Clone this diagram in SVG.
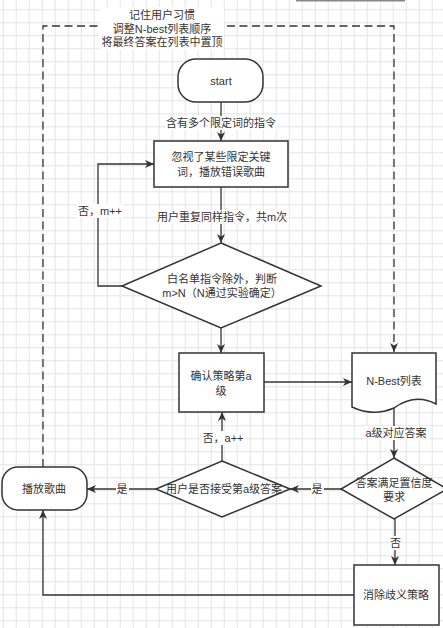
<svg xmlns="http://www.w3.org/2000/svg" width="443" height="628" viewBox="0 0 443 628">
  <defs>
    <pattern id="grid" x="2.7" y="9.3" width="13" height="13" patternUnits="userSpaceOnUse">
      <path d="M0.5,0 V13 M0,0.5 H13" fill="none" stroke="#e4e4e4" stroke-width="1"/>
    </pattern>
    <marker id="arr" markerWidth="10" markerHeight="9" refX="9" refY="4.5" orient="auto" markerUnits="userSpaceOnUse">
      <path d="M0,0.5 L9,4.5 L0,8.5 L2.5,4.5 Z" fill="#333"/>
    </marker>
    <style>
      .node { fill: #fff; stroke: #333; stroke-width: 1.5; }
      .edge { fill: none; stroke: #333; stroke-width: 1.3; }
      .dash { stroke-dasharray: 8 4.5; }
      .t { font-family: "Liberation Sans", "Noto Sans CJK SC", sans-serif; font-size: 11px; fill: #333; text-anchor: middle; dominant-baseline: central; }
      .bg { fill: #fff; }
    </style>
  </defs>
  <rect width="443" height="628" fill="#fff"/>
  <rect width="443" height="628" fill="url(#grid)"/>
  <line x1="296" y1="0.5" x2="405" y2="0.5" stroke="#888" stroke-width="2"/>

  <g id="connectors">
    <path class="edge dash" d="M43,467 V26 H394 V352" marker-end="url(#arr)"/>
    <path class="edge" d="M221,102 V141" marker-end="url(#arr)"/>
    <path class="edge" d="M221,187 V243" marker-end="url(#arr)"/>
    <path class="edge" d="M122,286 H98 V164 H154" marker-end="url(#arr)"/>
    <path class="edge" d="M221,328 V353" marker-end="url(#arr)"/>
    <path class="edge" d="M264,382 H352" marker-end="url(#arr)"/>
    <path class="edge" d="M394,408 V458" marker-end="url(#arr)"/>
    <path class="edge" d="M341,489 H290" marker-end="url(#arr)"/>
    <path class="edge" d="M222,461 V412" marker-end="url(#arr)"/>
    <path class="edge" d="M156,489 H87" marker-end="url(#arr)"/>
    <path class="edge" d="M395,519 V565" marker-end="url(#arr)"/>
    <path class="edge" d="M354,595 H43 V510" marker-end="url(#arr)"/>

    <rect class="bg" x="100" y="7" width="124" height="43"/>
    <text class="t" x="162" y="15">记住用户习惯</text>
    <text class="t" x="162" y="28.5">调整N-best列表顺序</text>
    <text class="t" x="162" y="42">将最终答案在列表中置顶</text>

    <rect class="bg" x="166" y="116" width="112" height="14"/>
    <text class="t" x="221" y="123">含有多个限定词的指令</text>

    <rect class="bg" x="156" y="210" width="133" height="14"/>
    <text class="t" x="222" y="217">用户重复同样指令，共m次</text>

    <rect class="bg" x="77" y="204" width="46" height="14"/>
    <text class="t" x="100" y="211">否，m++</text>

    <rect class="bg" x="201" y="431" width="45" height="14"/>
    <text class="t" x="223" y="438">否，a++</text>

    <rect class="bg" x="364" y="426" width="64" height="14"/>
    <text class="t" x="396" y="433">a级对应答案</text>

    <rect class="bg" x="116" y="482" width="13" height="14"/>
    <text class="t" x="122" y="489">是</text>

    <rect class="bg" x="311" y="482" width="13" height="14"/>
    <text class="t" x="317" y="489">是</text>

    <rect class="bg" x="389" y="536" width="13" height="14"/>
    <text class="t" x="395.5" y="543">否</text>
  </g>

  <g id="start">
    <rect class="node" x="178" y="59" width="85" height="43" rx="18"/>
    <text class="t" x="221" y="81">start</text>
  </g>

  <g id="ignore">
    <rect class="node" x="154" y="141" width="134" height="46"/>
    <text class="t" x="221" y="157">忽视了某些限定关键</text>
    <text class="t" x="221" y="172">词，播放错误歌曲</text>
  </g>

  <g id="judge">
    <polygon class="node" points="221,243 321,286 221,328 122,286"/>
    <text class="t" x="222" y="279">白名单指令除外，判断</text>
    <text class="t" x="222" y="293">m&gt;N（N通过实验确定）</text>
  </g>

  <g id="confirm">
    <rect class="node" x="179" y="353" width="85" height="59"/>
    <text class="t" x="221" y="376">确认策略第a</text>
    <text class="t" x="221" y="391">级</text>
  </g>

  <g id="nbest">
    <path class="node" d="M352,353 H436 V404 Q415,393 394,408 Q373,417 352,407 Z"/>
    <text class="t" x="394" y="381">N-Best列表</text>
  </g>

  <g id="confidence">
    <polygon class="node" points="394,458 447,489 394,519 341,489"/>
    <text class="t" x="394" y="483">答案满足置信度</text>
    <text class="t" x="394" y="497">要求</text>
  </g>

  <g id="accept">
    <polygon class="node" points="222,461 290,489 222,517 156,489"/>
    <text class="t" x="224" y="489">用户是否接受第a级答案</text>
  </g>

  <g id="play">
    <rect class="node" x="2" y="467" width="85" height="43" rx="16"/>
    <text class="t" x="44" y="489">播放歌曲</text>
  </g>

  <g id="disambiguate">
    <rect class="node" x="354" y="565" width="85" height="60"/>
    <text class="t" x="396" y="595">消除歧义策略</text>
  </g>
</svg>
